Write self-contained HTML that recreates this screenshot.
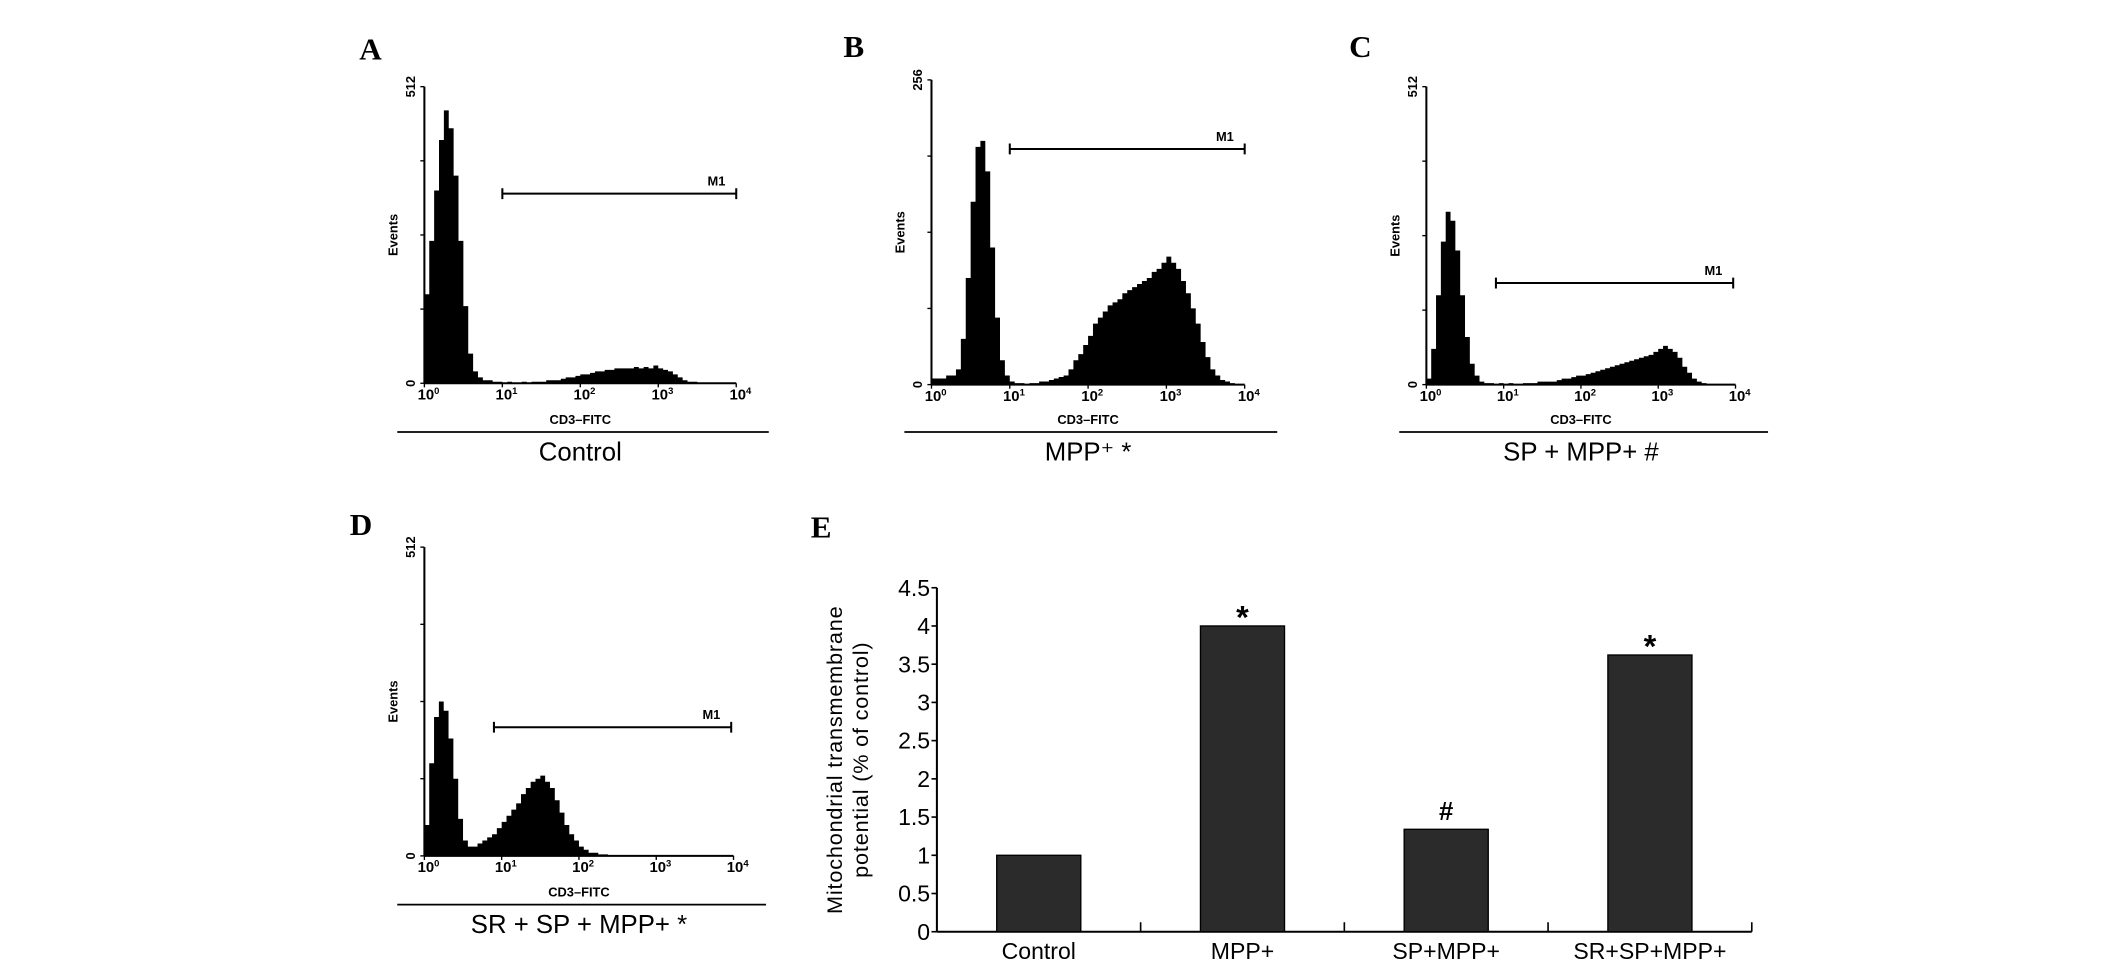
<!DOCTYPE html>
<html><head><meta charset="utf-8"><style>
html,body{margin:0;padding:0;background:#fff;width:2126px;height:971px;overflow:hidden}
svg{display:block}
text{font-family:"Liberation Sans",Arial,sans-serif;fill:#000}
.lt{font-family:"Liberation Serif",serif;font-weight:bold;font-size:23px}
.sm{font-size:9.5px;font-weight:bold}
.tk{font-size:11px;font-weight:bold}
.cap{font-size:19px}
</style></head><body>
<svg id="fig" width="2126" height="971" viewBox="0 0 1568 717" preserveAspectRatio="none" xmlns="http://www.w3.org/2000/svg"></svg>
<script>
// ---------- histogram data (64 bins over 4 log decades, fraction of y-max) ----------
const histA=[.30,.48,.65,.82,.92,.86,.70,.48,.26,.10,.04,.02,
.01,.01,.005,.005,0,.005,0,0,.005,0,.005,.005,.005,.01,.01,.01,
.015,.02,.02,.025,.03,.03,.035,.04,.04,.045,.045,.05,.05,.05,.05,.055,.05,.055,.05,.06,
.05,.045,.04,.03,.02,.01,.005,.005,0,0,0,0,0,0,0,0];
const histB=[.02,.02,.02,.03,.03,.05,.15,.35,.6,.78,.8,.7,.45,.22,.08,.03,
.01,.005,.005,0,.005,.005,.01,.01,.015,.02,.025,.03,.05,.08,
.1,.13,.16,.2,.22,.24,.26,.27,.28,.3,.31,.32,.33,.34,.35,.37,.38,.4,.42,.4,.38,
.34,.3,.25,.2,.14,.09,.05,.03,.015,.01,.005,0,0];
const histC=[.02,.12,.3,.48,.58,.55,.45,.3,.16,.07,.03,.01,.005,.005,
0,.005,0,.005,0,0,.005,.005,.005,.01,.01,.01,.01,.015,.02,.02,.025,.03,.03,.035,
.04,.045,.05,.055,.06,.065,.07,.075,.08,.085,.09,.095,.1,.11,.12,.13,.12,.11,.09,.06,.04,.02,
.01,.005,0,0,0,0,0,0];
const histD=[.1,.3,.45,.5,.47,.38,.25,.12,.05,.03,.03,.04,
.05,.06,.07,.09,.11,.13,.15,.17,.2,.22,.24,.25,.26,.24,.22,.18,.14,.1,.07,.05,.03,.02,.01,.01,.005,.005,
0,0,0,0,0,0,0,0,0,0,0,0,0,0,0,0,0,0,0,0,0,0,0,0,0,0];
const histYMax=["512","256","512","512"];
const histCaptions=["Control","MPP⁺ *","SP + MPP+ #","SR + SP + MPP+ *"];
const gateStart=[1,1,0.9,0.9];   // log decades
const gateEnd=[4,4,3.97,3.97];
// ---------- bar chart data ----------
const categories=["Control","MPP+","SP+MPP+","SR+SP+MPP+"];
const barValues=[1,4,1.34,3.62];
const barMarks=["","*","#","*"];
const yTicks=[0,0.5,1,1.5,2,2.5,3,3.5,4,4.5];
const yTickLabels=["0","0.5","1","1.5","2","2.5","3","3.5","4","4.5"];

const svg=document.getElementById('fig');
const NS="http://www.w3.org/2000/svg";
function mk(tag,attrs,parent,txt){const e=document.createElementNS(NS,tag);for(const k in attrs)e.setAttribute(k,attrs[k]);if(txt!==undefined)e.textContent=txt;(parent||svg).appendChild(e);return e;}

const panels=[
 {letter:"A",lx:265,ly:44,x0:313,x1:543,y0:283,y1:64,gy:143,data:histA,capY:319},
 {letter:"B",lx:622,ly:42,x0:687,x1:918,y0:284,y1:59,gy:110,data:histB,capY:319},
 {letter:"C",lx:995,ly:42,x0:1052,x1:1280,y0:284,y1:64,gy:209,data:histC,capY:319},
 {letter:"D",lx:258,ly:395,x0:313,x1:541,y0:632,y1:404,gy:537,data:histD,capY:668}
];
panels.forEach((p,i)=>{
  const g=mk('g',{});
  
  
  const t=mk('text',{x:p.lx,y:p.ly,class:'lt'},g,p.letter);
  
  
  const xs=v=>p.x0+(p.x1-p.x0)*v/4;
  const ys=v=>p.y0-(p.y0-p.y1)*v;
  const n=p.data.length;
  let d=`M${xs(0)},${p.y0}`;
  p.data.forEach((v,k)=>{d+=` L${xs(k*4/n)},${ys(v)} L${xs((k+1)*4/n)},${ys(v)}`;});
  d+=` L${xs(4)},${p.y0} Z`;
  const h=mk('path',{d:d,fill:'#000'},g);
  
  
  mk('line',{x1:p.x0,y1:p.y1,x2:p.x0,y2:p.y0,stroke:'#000','stroke-width':1.5},g);
  mk('line',{x1:p.x0,y1:p.y0,x2:p.x1,y2:p.y0,stroke:'#000','stroke-width':1.5},g);
  for(let q=0;q<=4;q++){const yy=ys(q/4);mk('line',{x1:p.x0-3,y1:yy,x2:p.x0,y2:yy,stroke:'#000','stroke-width':1},g);}
  for(let q=0;q<=4;q++){mk('line',{x1:xs(q),y1:p.y0,x2:xs(q),y2:p.y0+3,stroke:'#000','stroke-width':1},g);
    const tl=mk('text',{x:xs(q)-5,y:p.y0+12,class:'tk'},g,'10');
    mk('tspan',{dy:-4,'font-size':'7'},tl,String(q));}
  const ym=mk('text',{x:0,y:0,class:'sm',transform:`translate(${p.x0-7},${p.y1}) rotate(-90)`,'text-anchor':'middle'},g,histYMax[i]);
  
  mk('text',{x:0,y:0,class:'sm',transform:`translate(${p.x0-7},${p.y0}) rotate(-90)`,'text-anchor':'middle'},g,'0');
  const ev=mk('text',{x:0,y:0,class:'sm',transform:`translate(${p.x0-20},${(p.y0+p.y1)/2}) rotate(-90)`,'text-anchor':'middle'},g,'Events');
  
  const xt=mk('text',{x:(p.x0+p.x1)/2,y:p.capY-6,class:'sm','text-anchor':'middle'},g,'CD3–FITC');
  
  mk('line',{x1:p.x0-20,y1:p.capY,x2:p.x1+24,y2:p.capY,stroke:'#000','stroke-width':1.3},g);
  const cp=mk('text',{x:(p.x0+p.x1)/2,y:p.capY+21,class:'cap','text-anchor':'middle'},g,histCaptions[i]);
  
  const ga=xs(gateStart[i]),gb=xs(gateEnd[i]);
  const gl=mk('path',{d:`M${ga},${p.gy} H${gb} M${ga},${p.gy-4} V${p.gy+4} M${gb},${p.gy-4} V${p.gy+4}`,stroke:'#000','stroke-width':1.5,fill:'none'},g);
  
  mk('text',{x:gb-8,y:p.gy-6,class:'sm','text-anchor':'end'},g,'M1');
});

// ---------- bar chart E ----------
const E=mk('g',{});


const el=mk('text',{x:598,y:397,class:'lt'},E,'E');

const bx0=691,bx1=1292,by0=688,by1=434,yMax=4.5;
const yS=v=>by0-(by0-by1)*v/yMax;
const slot=(bx1-bx0)/categories.length;
const bw=62;
mk('line',{x1:bx0,y1:by1,x2:bx0,y2:by0,stroke:'#000','stroke-width':1.5},E);
mk('line',{x1:bx0,y1:by0,x2:bx1,y2:by0,stroke:'#000','stroke-width':1.5},E);
yTicks.forEach((v,k)=>{
  mk('line',{x1:bx0-4,y1:yS(v),x2:bx0,y2:yS(v),stroke:'#000','stroke-width':1.2},E);
  const tt=mk('text',{x:bx0-5,y:yS(v)+6,'text-anchor':'end','font-size':'17'},E,yTickLabels[k]);
  
});
categories.forEach((c,k)=>{
  const cx=bx0+slot*(k+0.5);
  mk('line',{x1:bx0+slot*(k+1),y1:by0,x2:bx0+slot*(k+1),y2:by0-7,stroke:'#000','stroke-width':1.2},E);
  const r=mk('rect',{x:cx-bw/2,y:yS(barValues[k]),width:bw,height:by0-yS(barValues[k]),fill:'#2b2b2b',stroke:'#000','stroke-width':1},E);
  
  
  const lb=mk('text',{x:cx,y:by0+20,'text-anchor':'middle','font-size':'17'},E,c);
  
  if(barMarks[k]){const m=mk('text',{x:cx,y:yS(barValues[k])-(barMarks[k]=='*'?-2:7),'text-anchor':'middle','font-size':barMarks[k]=='*'?'24':'19','font-weight':'bold'},E,barMarks[k]);
    }
});
const yl=mk('text',{x:0,y:0,transform:`translate(621,${(by0+by1)/2}) rotate(-90)`,'text-anchor':'middle','font-size':'16','letter-spacing':'0.6'},E,'Mitochondrial transmembrane');

mk('text',{x:0,y:0,transform:`translate(640,${(by0+by1)/2}) rotate(-90)`,'text-anchor':'middle','font-size':'16','letter-spacing':'0.6'},E,'potential (% of control)');
</script>
</body></html>
